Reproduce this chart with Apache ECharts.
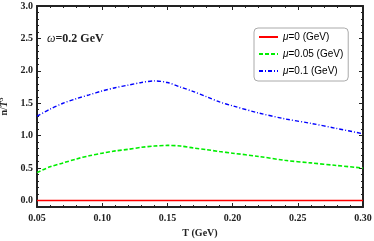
<!DOCTYPE html>
<html><head><meta charset="utf-8">
<script src="https://cdn.jsdelivr.net/npm/echarts@6/dist/echarts.min.js"></script>
<style>html,body{margin:0;padding:0;background:#fff}#c{width:374px;height:241px}</style>
</head><body><div id="c"></div>
<script>
const temps = [0.05,0.06,0.07,0.08,0.09,0.10,0.11,0.12,0.13,0.14,0.15,0.16,0.17,0.18,0.19,0.20,0.22,0.24,0.26,0.28,0.30];
const mu0 = [0,0,0,0,0,0,0,0,0,0,0,0,0,0,0,0,0,0,0,0,0];
const mu005 = [0.43,0.52,0.58,0.64,0.69,0.73,0.765,0.79,0.82,0.84,0.85,0.84,0.81,0.785,0.755,0.73,0.68,0.62,0.58,0.54,0.50];
const mu01 = [1.30,1.41,1.50,1.57,1.63,1.69,1.74,1.78,1.82,1.845,1.82,1.75,1.68,1.60,1.52,1.46,1.35,1.26,1.19,1.11,1.03];
const seriesNames = ['μ=0 (GeV)','μ=0.05 (GeV)','μ=0.1 (GeV)'];
const yMajor = [0,0.5,1.0,1.5,2.0,2.5,3.0];
const yMinor = [-0.1,0,0.1,0.2,0.3,0.4,0.5,0.6,0.7,0.8,0.9,1.0,1.1,1.2,1.3,1.4,1.5,1.6,1.7,1.8,1.9,2.0,2.1,2.2,2.3,2.4,2.5,2.6,2.7,2.8,2.9,3.0];

const serif = '"Liberation Serif","Times New Roman",serif';
const pair = arr => temps.map((t,i)=>[t,arr[i]]);
const frame = {lineStyle:{color:'#222',width:2}};
const labelStyle = {fontFamily:serif,fontWeight:'bold',fontSize:10,color:'#222'};

function yAx(pos, major, showLabel){
  return {type:'value',position:pos,min:-0.1,max:3.0,
    axisLine:{show:major,onZero:false,...frame},
    splitLine:{show:false},
    axisTick:{show:true,inside:true,length:major?4:2,customValues:major?yMajor:yMinor,lineStyle:{color:'#222',width:1}},
    axisLabel:{show:showLabel,customValues:yMajor,formatter:v=>v.toFixed(1),margin:4,...labelStyle},
    name: showLabel ? 'n/{i|T}{s|3}' : '',
    nameLocation:'middle',nameGap:16,
    nameTextStyle:{...labelStyle,rich:{i:{fontFamily:serif,fontWeight:'bold',fontStyle:'italic',fontSize:10},s:{fontFamily:serif,fontWeight:'bold',fontSize:7,verticalAlign:'top',padding:[0,0,6,0]}}}
  };
}
function xAx(pos, showLabel){
  return {type:'value',position:pos,min:0.05,max:0.30,interval:0.05,
    axisLine:{show:true,onZero:false,...frame},
    splitLine:{show:false},
    axisTick:{show:true,inside:true,length:4,lineStyle:{color:'#222',width:1}},
    minorTick:{show:true,splitNumber:5,length:2,lineStyle:{color:'#222',width:1}},
    axisLabel:{show:showLabel,formatter:v=>v.toFixed(2),margin:6,...labelStyle},
    name: showLabel ? 'T (GeV)' : '',
    nameLocation:'middle',nameGap:21,
    nameTextStyle:{...labelStyle}
  };
}

const chart = echarts.init(document.getElementById('c'),null,{renderer:'canvas'});
chart.setOption({
  animation:false,
  grid:{left:37,right:11,top:6,bottom:34,outerBoundsMode:'none',containLabel:false},
  xAxis:[xAx('bottom',true), xAx('top',false)],
  yAxis:[yAx('left',true,true), yAx('left',false,false), yAx('right',true,false), yAx('right',false,false)],
  legend:{
    orient:'vertical',left:254,top:28,
    padding:[4,5,5,4],itemGap:7,itemWidth:19,itemHeight:10,
    backgroundColor:'#fff',borderColor:'#aaa',borderWidth:1,borderRadius:4,
    data:seriesNames,
    itemStyle:{opacity:0,color:'transparent',borderWidth:0},
    formatter:n=>'{i|μ}'+n.slice(1),
    textStyle:{fontFamily:'"Liberation Sans",Arial,sans-serif',fontSize:10,color:'#000',
      rich:{i:{fontFamily:'"Liberation Sans",Arial,sans-serif',fontSize:10,fontStyle:'italic',color:'#000'}}}
  },
  graphic:[{type:'text',left:47,top:33,style:{
    text:'{i|ω}=0.2 GeV',
    font:'bold 12px '+serif,fill:'#222',
    rich:{i:{fontFamily:serif,fontWeight:'normal',fontStyle:'italic',fontSize:12,fill:'#222'}}
  }}],
  series:[
    {name:seriesNames[0],type:'line',data:pair(mu0),symbol:'none',lineStyle:{color:'#ff0000',width:1.6,type:'solid'},itemStyle:{color:'#ff0000'}},
    {name:seriesNames[1],type:'line',data:pair(mu005),symbol:'none',smooth:0.3,lineStyle:{color:'#00ee00',width:1.6,type:[4,2]},itemStyle:{color:'#00ee00'}},
    {name:seriesNames[2],type:'line',data:pair(mu01),symbol:'none',smooth:0.3,lineStyle:{color:'#0000ff',width:1.4,type:[4,2,1,2]},itemStyle:{color:'#0000ff'}}
  ]
});
</script></body></html>
